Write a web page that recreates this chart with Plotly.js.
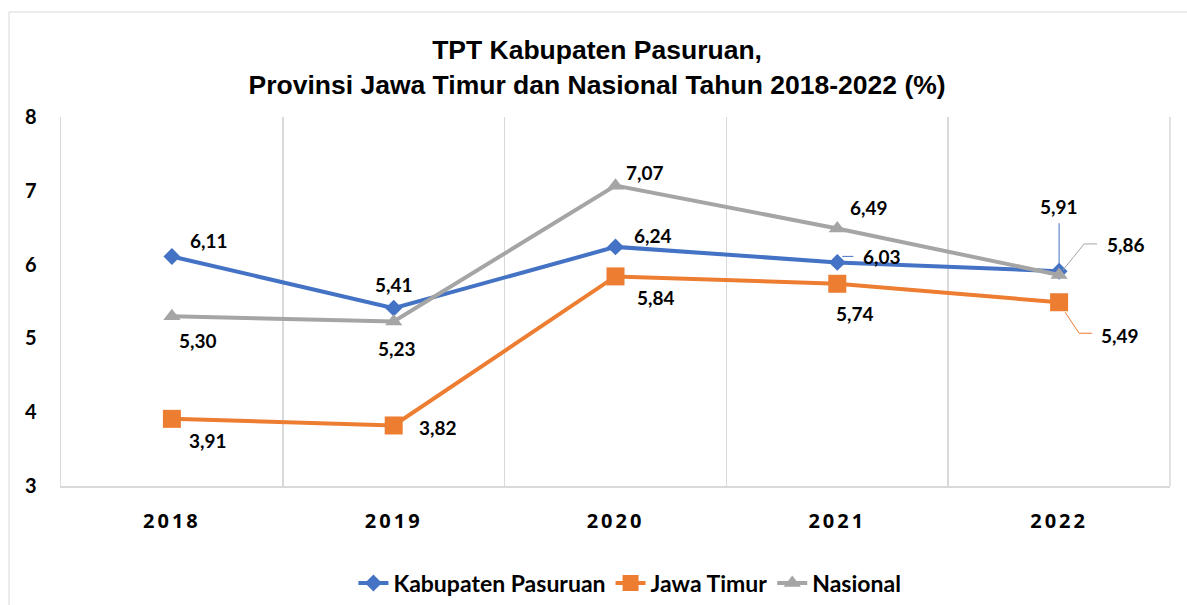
<!DOCTYPE html>
<html>
<head>
<meta charset="utf-8">
<script src="https://cdn.plot.ly/plotly-3.0.1.min.js"></script>
<style>
  html, body { margin: 0; padding: 0; background: #fff; }
  #chart { width: 1187px; height: 605px; }
  .xtick text { letter-spacing: 3px; }
</style>
</head>
<body>
<div id="chart"></div>
<script>
// ---- data ----
const years = ['2018', '2019', '2020', '2021', '2022'];
const kabupatenPasuruan = [6.11, 5.41, 6.24, 6.03, 5.91];
const jawaTimur = [3.91, 3.82, 5.84, 5.74, 5.49];
const nasional = [5.30, 5.23, 7.07, 6.49, 5.86];
const seriesNames = ['Kabupaten Pasuruan', 'Jawa Timur', 'Nasional'];
const yTicks = [3, 4, 5, 6, 7, 8];

// ---- styles ----
const colors = ['#4472C4', '#ED7D31', '#A5A5A5'];
const symbols = ['diamond', 'square', 'triangle-up'];
const markerSizes = [13, 18, 15];

// label offsets in pixels (dx right, dy up) per series per point
const labelOffsets = [
  [[37, 16], [0, 24], [37, 11], [45, 6], [0, 65]],
  [[36, -22], [44, -2], [40, -21], [18, -30], [61, -33]],
  [[26, -24], [3, -27], [29, 13], [32, 21], [67, 30]]
];
// leader lines (pixel paths relative to point, y up): [series, pointIndex, path]
const leaders = [
  [0, 3, 'M 5 6 L 16 6'],
  [0, 4, 'M 0 4 L 0 48'],
  [2, 4, 'M 4 5 L 25 31 L 38 31'],
  [1, 4, 'M 6 -10 L 20 -31 L 33 -31']
];

const allSeries = [kabupatenPasuruan, jawaTimur, nasional];

const traces = allSeries.map((vals, i) => ({
  type: 'scatter',
  mode: 'lines+markers',
  name: seriesNames[i],
  x: years,
  y: vals,
  line: { color: colors[i], width: 4 },
  marker: { symbol: symbols[i], size: markerSizes[i], color: colors[i] },
  cliponaxis: false
}));

const fmt = v => v.toFixed(2).replace('.', ',');

const annotations = [];
allSeries.forEach((vals, i) => {
  vals.forEach((v, j) => {
    annotations.push({
      x: j, y: v, xref: 'x', yref: 'y',
      text: fmt(v), showarrow: false,
      xanchor: 'center', yanchor: 'middle',
      xshift: labelOffsets[i][j][0], yshift: labelOffsets[i][j][1],
      font: { family: 'Lato, "Open Sans", sans-serif', size: 19, color: '#000', weight: 'bold' }
    });
  });
});

const shapes = leaders.map(([s, j, path]) => ({
  type: 'path', xref: 'x', yref: 'y',
  xsizemode: 'pixel', ysizemode: 'pixel',
  xanchor: j, yanchor: allSeries[s][j],
  path: path,
  line: { color: colors[s], width: 1 }
}));

// right-edge gridline of the plot area
shapes.push({
  type: 'line', xref: 'paper', yref: 'paper', layer: 'below',
  x0: 1, x1: 1, y0: 0, y1: 1,
  line: { color: '#D9D9D9', width: 1.5 }
});

// outer chart frame
shapes.push({
  type: 'rect', xref: 'paper', yref: 'paper', layer: 'below',
  x0: -0.0469, x1: 1.03, y0: -0.4, y1: 1.2846,
  line: { color: '#D9D9D9', width: 1 }, fillcolor: 'rgba(0,0,0,0)'
});

const layout = {
  width: 1187, height: 605,
  margin: { l: 61, r: 17, t: 117, b: 119, autoexpand: false },
  paper_bgcolor: '#fff', plot_bgcolor: '#fff',
  title: {
    text: 'TPT Kabupaten Pasuruan,<br>Provinsi Jawa Timur dan Nasional Tahun 2018-2022 (%)',
    font: { family: '"Liberation Sans", Arial, sans-serif', size: 26.5, color: '#000', weight: 'bold' },
    x: 0.503, xref: 'container', xanchor: 'center',
    y: 0.902, yref: 'container', yanchor: 'top'
  },
  xaxis: {
    type: 'category',
    categoryorder: 'array', categoryarray: years,
    range: [-0.5, 4.5],
    tickson: 'boundaries',
    showgrid: true, gridcolor: '#D9D9D9', gridwidth: 1.5,
    showline: true, linecolor: '#D9D9D9', linewidth: 1.5,
    ticks: '',
    ticklabelstandoff: 16,
    tickfont: { family: '"Open Sans", Lato, sans-serif', size: 20, color: '#000', weight: 'bold' },
    zeroline: false,
    automargin: false
  },
  yaxis: {
    range: [3, 8],
    tickvals: yTicks,
    ticktext: yTicks.map(String),
    showgrid: false,
    zeroline: false,
    showline: true, linecolor: '#D9D9D9', linewidth: 1.5,
    ticks: '',
    ticklabelstandoff: 19,
    tickfont: { family: 'Lato, sans-serif', size: 20, color: '#000', weight: 'bold' },
    automargin: false
  },
  legend: {
    orientation: 'h',
    x: 0.513, xanchor: 'center',
    y: -0.263, yanchor: 'middle',
    font: { family: 'Lato, sans-serif', size: 23, color: '#000', weight: 'bold' },
    traceorder: 'normal'
  },
  showlegend: true,
  annotations: annotations,
  shapes: shapes
};

Plotly.newPlot('chart', traces, layout, { displayModeBar: false, staticPlot: true });
</script>
</body>
</html>
